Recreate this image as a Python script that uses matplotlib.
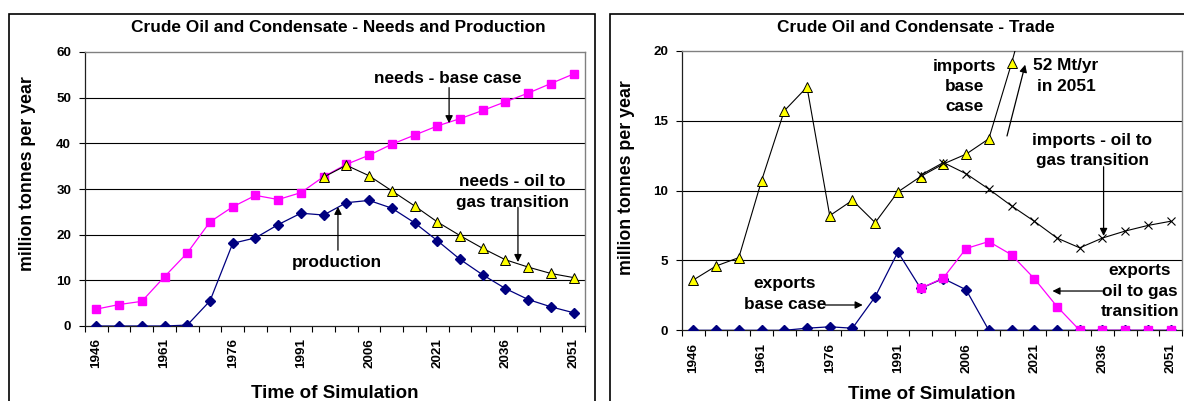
import matplotlib
matplotlib.use("Agg")
import matplotlib.pyplot as plt
from matplotlib.patches import Rectangle
import numpy as np

plt.rcParams['font.family'] = ['Liberation Sans', 'DejaVu Sans']
plt.rcParams['font.weight'] = 'bold'

# Simulation years (5-year steps)
years = list(range(1946, 2052, 5))
tick_years = [1946, 1961, 1976, 1991, 2006, 2021, 2036, 2051]

# Needs and production (million tonnes per year)
needs_base = [3.7, 4.7, 5.4, 10.8, 16.0, 22.8, 26.1, 28.6, 27.7, 29.2, 32.7,
              35.4, 37.4, 39.8, 41.8, 43.8, 45.4, 47.2, 49.1, 51.0, 53.1, 55.2]
needs_transition = [None] * 10 + [32.6, 35.2, 32.9, 29.6, 26.3, 22.8, 19.8,
                                  17.0, 14.5, 12.9, 11.5, 10.6]
production = [0.0, 0.0, 0.0, 0.0, 0.2, 5.5, 18.1, 19.3, 22.2, 24.7, 24.3,
              27.0, 27.5, 25.8, 22.6, 18.7, 14.6, 11.2, 8.2, 5.8, 4.2, 2.9]

# Trade (million tonnes per year)
imports_base = [3.6, 4.6, 5.2, 10.7, 15.7, 17.4, 8.2, 9.3, 7.7, 9.9, 11.0,
                11.9, 12.6, 13.7, 19.1, 25.0] + [None] * 6
imports_transition = [None] * 10 + [11.1, 12.0, 11.2, 10.1, 8.9, 7.8, 6.6,
                                    5.9, 6.6, 7.1, 7.5, 7.8]
exports_base = [0.0, 0.0, 0.0, 0.0, 0.0, 0.15, 0.25, 0.15, 2.4, 5.6, 3.0,
                3.7, 2.9, 0.0, 0.0, 0.0, 0.0, 0.0, 0.0, 0.0, 0.0, 0.0]
exports_transition = [None] * 10 + [3.0, 3.75, 5.85, 6.35, 5.4, 3.7, 1.7,
                                    0.0, 0.0, 0.0, 0.0, 0.0]


def arr(v):
    return np.array([np.nan if x is None else x for x in v], dtype=float)


W, H = 1184, 401
fig = plt.figure(figsize=(W / 100, H / 100), dpi=100)


def px_axes(x0, x1, ytop, ybot):
    return fig.add_axes([x0 / W, 1 - ybot / H, (x1 - x0) / W, (ybot - ytop) / H])


# Chart frames
for x0, x1 in [(9, 595), (610, 1200)]:
    fig.patches.append(Rectangle((x0 / W, -0.1), (x1 - x0) / W, 1 - 14 / H + 0.1,
                                 transform=fig.transFigure, fill=False,
                                 edgecolor='black', lw=1.2, zorder=0))

idx = np.arange(len(years))
MAG, NAVY = '#FF00FF', '#000080'
TICK_FS = 9.6
NOTE_FS = 12.4


def style_axes(ax, ymax, ystep):
    ax.set_xlim(-0.5, len(years) - 0.5)
    ax.set_ylim(0, ymax)
    ax.set_yticks(np.arange(0, ymax + 0.1, ystep))
    ax.set_yticklabels([f"{int(v)}" for v in np.arange(0, ymax + 0.1, ystep)],
                       fontsize=TICK_FS, fontweight='bold')
    ax.set_xticks([years.index(y) for y in tick_years])
    ax.set_xticklabels([str(y) for y in tick_years], rotation=90,
                       fontsize=TICK_FS, fontweight='bold')
    ax.set_xticks(np.arange(-0.5, len(years)), minor=True)
    ax.tick_params(axis='x', which='major', length=0, pad=9)
    ax.tick_params(axis='x', which='minor', length=4, width=0.8, direction='out')
    ax.tick_params(axis='y', length=4, width=0.8, pad=6)
    for v in np.arange(ystep, ymax, ystep):
        ax.axhline(v, color='black', lw=0.8, zorder=1)
    for s in ['top', 'right']:
        ax.spines[s].set_color('#808080')
        ax.spines[s].set_linewidth(1.0)
    for s in ['left', 'bottom']:
        ax.spines[s].set_color('#202020')
        ax.spines[s].set_linewidth(0.9)
    ax.set_xlabel('Time of Simulation', fontsize=13.5, fontweight='bold')
    ax.xaxis.set_label_coords(0.5, -0.215)
    ax.set_ylabel('million tonnes per year', fontsize=12.8, fontweight='bold')


def arrow(ax, xy_from, xy_to):
    ax.annotate('', xy=xy_to, xytext=xy_from,
                arrowprops=dict(arrowstyle='-|>', color='black', lw=0.9,
                                mutation_scale=11, shrinkA=0, shrinkB=0),
                annotation_clip=False)


def note(ax, x, y, s):
    ax.text(x, y, s, ha='center', va='center', fontsize=NOTE_FS, fontweight='bold',
            linespacing=1.45, clip_on=False, zorder=6)


# ---- Left chart: needs and production ----
ax1 = px_axes(85, 585, 52, 326)
style_axes(ax1, 60, 10)
ax1.yaxis.set_label_coords(-0.098, 0.555)
ax1.plot(idx, arr(needs_base), color=MAG, lw=0.9, marker='s', ms=5.3,
         mfc=MAG, mec=MAG, zorder=3)
ax1.plot(idx, arr(production), color=NAVY, lw=0.9, marker='D', ms=4.7,
         mfc=NAVY, mec=NAVY, zorder=3)
ax1.plot(idx, arr(needs_transition), color='black', lw=0.8, marker='^', ms=6.8,
         mfc='#FFFF00', mec='black', mew=0.7, zorder=4)
fig.text(338.6 / W, 1 - 28 / H, 'Crude Oil and Condensate - Needs and Production',
         ha='center', va='center', fontsize=12.4, fontweight='bold')

note(ax1, 15.45, 54.1, 'needs - base case')
arrow(ax1, (15.52, 52.2), (15.52, 44.4))
note(ax1, 18.3, 29.3, 'needs - oil to\ngas transition')
arrow(ax1, (18.55, 26.0), (18.55, 14.0))
note(ax1, 10.6, 14.0, 'production')
arrow(ax1, (10.63, 16.6), (10.63, 26.1))

# ---- Right chart: trade ----
ax2 = px_axes(682, 1182, 50.7, 330.3)
style_axes(ax2, 20, 5)
ax2.yaxis.set_label_coords(-0.094, 0.548)
ax2.xaxis.set_label_coords(0.5, -0.2)
ax2.plot(idx, arr(imports_base), color='black', lw=0.8, marker='^', ms=6.8,
         mfc='#FFFF00', mec='black', mew=0.7, zorder=3)
ax2.plot(idx, arr(imports_transition), color='black', lw=0.8, marker='x', ms=6,
         mec='black', mew=0.8, zorder=4)
ax2.plot(idx, arr(exports_base), color=NAVY, lw=0.9, marker='D', ms=4.7,
         mfc=NAVY, mec=NAVY, zorder=3)
ax2.plot(idx, arr(exports_transition), color=MAG, lw=0.9, marker='s', ms=5.3,
         mfc=MAG, mec=MAG, zorder=4)
fig.text(916 / W, 1 - 28 / H, 'Crude Oil and Condensate - Trade',
         ha='center', va='center', fontsize=12.4, fontweight='bold')

note(ax2, 11.95, 17.44, 'imports\nbase\ncase')
note(ax2, 16.4, 18.19, '52 Mt/yr\nin 2051')
arrow(ax2, (13.8, 13.9), (14.6, 19.0))
note(ax2, 17.54, 12.86, 'imports - oil to\ngas transition')
arrow(ax2, (18.05, 11.7), (18.05, 6.75))
note(ax2, 4.03, 2.6, 'exports\nbase case')
arrow(ax2, (5.8, 1.81), (7.45, 1.81))
note(ax2, 19.65, 2.81, 'exports\noil to gas\ntransition')
arrow(ax2, (18.0, 2.81), (15.8, 2.81))

fig.savefig('out.png', dpi=100)
